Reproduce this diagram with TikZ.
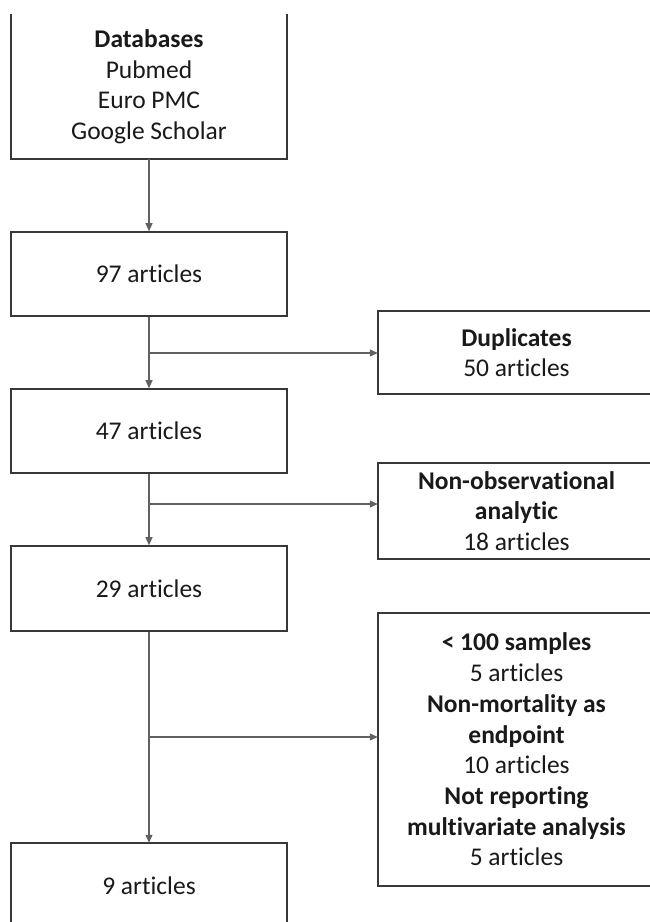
\documentclass[tikz,border=0pt]{standalone}
\usepackage{fontspec}
\setmainfont{Carlito}[Ligatures=NoCommon]
\usetikzlibrary{arrows.meta,calc}
\tikzset{
  boxline/.style={draw=black!78, line width=1.6pt},
  conn/.style={draw=black!62, line width=1.1pt},
  arr/.style={conn, -{Triangle[length=8pt,width=7pt]}},
  txt/.style={align=center, text=black!90, font=\fontsize{25.5}{30.5}\selectfont, inner sep=0pt},
  mainbox/.style={boxline, minimum width=276pt, inner sep=0pt, txt},
}
\begin{document}
\begin{tikzpicture}[x=1pt,y=-1pt]
\useasboundingbox (0,0) rectangle (650,922);
\clip (0,0) rectangle (650,922);
% main column
\node[txt, minimum width=276pt, minimum height=145pt] (db) at (149,86.5) {\textbf{Databases}\\Pubmed\\Euro PMC\\Google Scholar};
\draw[boxline] (db.north west) -- (db.south west) -- (db.south east) -- (db.north east);
\node[mainbox, minimum height=84pt] (b97) at (149,274) {97 articles};
\node[mainbox, minimum height=84pt] (b47) at (149,431) {47 articles};
\node[mainbox, minimum height=85pt] (b29) at (149,588.5) {29 articles};
\node[txt, minimum width=276pt, minimum height=85pt] (b9) at (149,885.5) {9 articles};
\draw[boxline] (b9.south west) -- (b9.north west) -- (b9.north east) -- (b9.south east);
% side boxes
\node[txt, minimum width=277pt, minimum height=83pt] (dup) at (516.5,352.5) {\textbf{Duplicates}\\50 articles};
\draw[boxline] (dup.north east) -- (dup.north west) -- (dup.south west) -- (dup.south east);
\node[txt, minimum width=277pt, minimum height=96pt] (nonobs) at (516.5,511) {\textbf{Non-observational}\\\textbf{analytic}\\18 articles};
\draw[boxline] (nonobs.north east) -- (nonobs.north west) -- (nonobs.south west) -- (nonobs.south east);
\node[txt, minimum width=277pt, minimum height=273pt, font=\fontsize{25.5}{30.7}\selectfont] (excl) at (516.5,749.5) {\textbf{< 100 samples}\\5 articles\\\textbf{Non-mortality as}\\\textbf{endpoint}\\10 articles\\\textbf{Not reporting}\\\textbf{multivariate analysis}\\5 articles};
\draw[boxline] (excl.north east) -- (excl.north west) -- (excl.south west) -- (excl.south east);
% connectors
\coordinate (br1) at (149,353);
\coordinate (br2) at (149,504);
\coordinate (br3) at (149,737);
\draw[arr] (db.south) -- (b97.north);
\draw[arr] (b97.south) -- (b47.north);
\draw[arr] (b47.south) -- (b29.north);
\draw[arr] (b29.south) -- (b9.north);
\draw[arr] (br1) -- (br1 -| dup.west);
\draw[arr] (br2) -- (br2 -| nonobs.west);
\draw[arr] (br3) -- (br3 -| excl.west);
\end{tikzpicture}
\end{document}
